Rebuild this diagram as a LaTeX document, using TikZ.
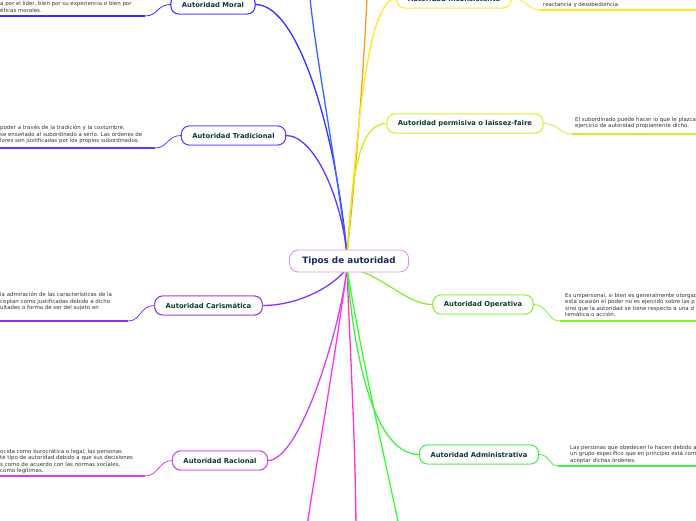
\documentclass[tikz,border=0pt]{standalone}
\usepackage{fontspec}
\setmainfont{DejaVu Sans}
\definecolor{cMoral}{HTML}{3333FF}
\definecolor{cBlueUp}{HTML}{3366FF}
\definecolor{cTrad}{HTML}{6633FF}
\definecolor{cCaris}{HTML}{8833EE}
\definecolor{cRac}{HTML}{CC44EE}
\definecolor{cMag}{HTML}{FF33EE}
\definecolor{cPink}{HTML}{FF33CC}
\definecolor{cGreen}{HTML}{33FF33}
\definecolor{cAdm}{HTML}{44EE44}
\definecolor{cOp}{HTML}{88EE33}
\definecolor{cPerm}{HTML}{CCF022}
\definecolor{cInc}{HTML}{FFE822}
\definecolor{cOrange}{HTML}{FF9922}
\definecolor{cCentral}{HTML}{E890E8}
\definecolor{labelcol}{HTML}{0B3D2E}
\definecolor{centralcol}{HTML}{1A2A5A}
\definecolor{desccol}{HTML}{333333}
\tikzset{
  topic/.style={draw=#1, line width=0.9pt, fill=white, rounded corners=8pt,
    inner xsep=11pt, inner ysep=0pt, minimum height=19pt,
    font=\fontsize{6.8}{8}\selectfont\bfseries, text=labelcol},
  central/.style={draw=cCentral, line width=0.9pt, fill=white, rounded corners=9pt,
    inner xsep=13pt, inner ysep=0pt, minimum height=22pt,
    font=\fontsize{8.8}{10}\selectfont\bfseries, text=centralcol},
  branch/.style={draw=#1, line width=1.3pt},
  uline/.style={draw=#1, line width=2pt},
  ucurve/.style={draw=#1, line width=0.8pt},
  desc/.style={inner sep=0pt, align=left, anchor=north west, text=desccol,
    font=\fontsize{5.45}{6.5}\selectfont}
}
\begin{document}
\begin{tikzpicture}[x=1pt,y=-1pt]
\useasboundingbox (0,0) rectangle (696,520);
\clip (0,0) rectangle (696,520);
\coordinate (hubT) at (347,255);
\coordinate (hubB) at (347,268);
\coordinate (upBlue) at (308,-25);
\coordinate (upOrange) at (368,-25);
\coordinate (dnMag) at (305,540);
\coordinate (dnPink) at (356,540);
\coordinate (dnGreen) at (402,540);

% topic nodes
\node[topic=cMoral] (moral) at (213,4.5) {Autoridad Moral};
\node[topic=cTrad] (trad) at (233.5,135.5) {Autoridad Tradicional};
\node[topic=cCaris] (caris) at (208.5,305.5) {Autoridad Carismática};
\node[topic=cRac] (rac) at (220,460.5) {Autoridad Racional};
\node[topic=cInc] (inc) at (454,-1.5) {Autoridad Inconsistente};
\node[topic=cPerm] (perm) at (465,123.5) {Autoridad permisiva o laissez-faire};
\node[topic=cOp] (op) at (483,304.5) {Autoridad Operativa};
\node[topic=cAdm] (adm) at (479,454.5) {Autoridad Administrativa};

% branches
\draw[branch=cMoral] (hubT) .. controls (337,140) and (300,4.5) .. (moral.east);
\draw[branch=cBlueUp] (hubT) .. controls (335,150) and (312,40) .. (upBlue);
\draw[branch=cTrad] (hubT) .. controls (342,200) and (315,135.5) .. (trad.east);
\draw[branch=cOrange] (hubT) .. controls (358,150) and (365,50) .. (upOrange);
\draw[branch=cInc] (hubT) .. controls (358,120) and (368,-1.5) .. (inc.west);
\draw[branch=cPerm] (hubT) .. controls (352,170) and (360,123.5) .. (perm.west);
\draw[branch=cCaris] (hubB) .. controls (335,285) and (300,305.5) .. (caris.east);
\draw[branch=cRac] (hubB) .. controls (340,330) and (300,460.5) .. (rac.east);
\draw[branch=cMag] (hubB) .. controls (335,360) and (315,470) .. (dnMag);
\draw[branch=cPink] (hubB) .. controls (350,350) and (356,450) .. (dnPink);
\draw[branch=cGreen] (hubB) .. controls (360,350) and (385,460) .. (dnGreen);
\draw[branch=cAdm] (hubB) .. controls (356,380) and (380,454.5) .. (adm.west);
\draw[branch=cOp] (hubB) .. controls (380,272) and (405,304.5) .. (op.west);

% redraw topic nodes on top of branches
\node[topic=cMoral] at (moral) {Autoridad Moral};
\node[topic=cTrad] at (trad) {Autoridad Tradicional};
\node[topic=cCaris] at (caris) {Autoridad Carismática};
\node[topic=cRac] at (rac) {Autoridad Racional};
\node[topic=cInc] at (inc) {Autoridad Inconsistente};
\node[topic=cPerm] at (perm) {Autoridad permisiva o laissez-faire};
\node[topic=cOp] at (op) {Autoridad Operativa};
\node[topic=cAdm] at (adm) {Autoridad Administrativa};

\node[central] (root) at (349,261) {Tipos de autoridad};

% underlines and their connectors
\coordinate (uMoralA) at (0,16);   \coordinate (uMoralB) at (145,16);
\coordinate (uTradA) at (0,148);   \coordinate (uTradB) at (155,148);
\coordinate (uCarisA) at (0,321);  \coordinate (uCarisB) at (128,321);
\coordinate (uRacA) at (0,476);    \coordinate (uRacB) at (145,476);
\coordinate (uIncA) at (540,10);   \coordinate (uIncB) at (700,10);
\coordinate (uPermA) at (572,134); \coordinate (uPermB) at (700,134);
\coordinate (uOpA) at (560,321);   \coordinate (uOpB) at (700,321);
\coordinate (uAdmA) at (558,466);  \coordinate (uAdmB) at (700,466);

\draw[uline=cMoral] (uMoralA) -- (uMoralB);
\draw[ucurve=cMoral] (uMoralB) .. controls (158,16) and (157,4.5) .. (moral.west);
\draw[uline=cTrad] (uTradA) -- (uTradB);
\draw[ucurve=cTrad] (uTradB) .. controls (168,148) and (167,135.5) .. (trad.west);
\draw[uline=cCaris] (uCarisA) -- (uCarisB);
\draw[ucurve=cCaris] (uCarisB) .. controls (141,321) and (140,305.5) .. (caris.west);
\draw[uline=cRac] (uRacA) -- (uRacB);
\draw[ucurve=cRac] (uRacB) .. controls (158,476) and (159,460.5) .. (rac.west);

\draw[uline=cInc] (uIncA) -- (uIncB);
\draw[ucurve=cInc] (inc.east) .. controls (527,-1.5) and (527,10) .. (uIncA);
\draw[uline=cPerm] (uPermA) -- (uPermB);
\draw[ucurve=cPerm] (perm.east) .. controls (559,123.5) and (559,134) .. (uPermA);
\draw[uline=cOp] (uOpA) -- (uOpB);
\draw[ucurve=cOp] (op.east) .. controls (548,304.5) and (547,321) .. (uOpA);
\draw[uline=cAdm] (uAdmA) -- (uAdmB);
\draw[ucurve=cAdm] (adm.east) .. controls (550,454.5) and (549,466) .. (uAdmA);

% descriptions
\node[desc] (dMoral) at (0,1.2) {a por el líder, bien por su experiencia o bien por\\éticas morales.};
\node[desc] (dTrad) at (0,125.2) {poder a través de la tradición y la costumbre,\\se enseñado al subordinado a serlo. Las órdenes de\\lores son justificadas por los propios subordinados.};
\node[desc] (dCaris) at (0,292.2) {la admiración de las características de la\\ceptan como justificadas debido a dicho\\ultades o forma de ser del sujeto en};
\node[desc] (dRac) at (0,448.7) {ocida como burocrática o legal, las personas\\te tipo de autoridad debido a que sus decisiones\\s como de acuerdo con las normas sociales,\\como legítimas.};
\node[desc] (dInc) at (543,2) {reactancia y desobediencia.};
\node[desc] (dPerm) at (575,116.7) {El subordinado puede hacer lo que le plazca\\ejercicio de autoridad propiamente dicho.};
\node[desc] (dOp) at (565,292.7) {Es unipersonal, si bien es generalmente otorgad\\esta ocasión el poder no es ejercido sobre las p\\sino que la autoridad se tiene respecto a una d\\temática o acción.};
\node[desc] (dAdm) at (570,444.7) {Las personas que obedecen lo hacen debido a\\un grupo específico que en principio está com\\aceptar dichas órdenes.};
\end{tikzpicture}
\end{document}
